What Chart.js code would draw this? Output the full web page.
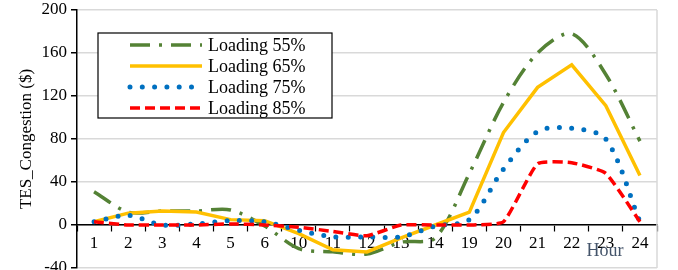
<!DOCTYPE html>
<html>
<head>
<meta charset="utf-8">
<script src="https://cdn.jsdelivr.net/npm/chart.js@4"></script>
<style>
  body { margin: 0; background: #fff; }
</style>
</head>
<body>
<canvas id="c" width="678" height="270"></canvas>
<script>
const hours = ["1", "2", "3", "4", "5", "6", "10", "11", "12", "13", "14", "19", "20", "21", "22", "23", "24"];
const loading55 = [31, 12, 13, 13, 14, -1, -22, -25, -27, -16, -12, 48, 114, 160, 178, 140, 78];
const loading65 = [3, 11, 13, 12, 5, 4, -8, -23, -25, -12, 0, 12, 86, 128, 149, 111, 46];
const loading75 = [3, 9, 0, 1, 4, 3, -5, -11, -11, -11, -1, 5, 52, 87, 90, 80, 3];
const loading85 = [3, 0, 0, 0, 1, 0, -2, -6, -10, 0, 0, 0, 3, 57, 58, 48, 3];
const yTicks = [-40, 0, 40, 80, 120, 160, 200];

const serif = '"Liberation Serif", "Times New Roman", serif';

// legend box, right border and the "Hour" label
const extras = {
  id: "extras",
  beforeDatasetsDraw(chart) {
    const { ctx, chartArea } = chart;
    ctx.save();
    ctx.strokeStyle = "#d9d9d9";
    ctx.lineWidth = 1.5;
    ctx.beginPath();
    ctx.moveTo(chartArea.right, chartArea.top);
    ctx.lineTo(chartArea.right, chartArea.bottom);
    ctx.stroke();
    ctx.restore();
  },
  afterDraw(chart) {
    const { ctx, chartArea, scales } = chart;
    ctx.save();

    const zero = scales.y.getPixelForValue(0);
    ctx.fillStyle = "#44546a";
    ctx.font = "18px " + serif;
    ctx.textAlign = "center";
    ctx.textBaseline = "middle";
    ctx.fillText("Hour", chartArea.right - 52, zero + 26);

    const bx = 98, by = 33, bw = 234, bh = 85;
    ctx.fillStyle = "#fff";
    ctx.fillRect(bx, by, bw, bh);
    ctx.strokeStyle = "#000";
    ctx.lineWidth = 1.2;
    ctx.strokeRect(bx, by, bw, bh);

    chart.data.datasets.forEach((ds, i) => {
      const ry = by + 12 + i * 21;
      ctx.save();
      ctx.strokeStyle = ds.borderColor;
      ctx.lineWidth = ds.borderWidth;
      ctx.lineCap = ds.borderCapStyle || "butt";
      ctx.setLineDash(ds.borderDash || []);
      ctx.beginPath();
      ctx.moveTo(130, ry);
      ctx.lineTo(202, ry);
      ctx.stroke();
      ctx.restore();
      ctx.fillStyle = "#000";
      ctx.font = "18px " + serif;
      ctx.textAlign = "left";
      ctx.textBaseline = "middle";
      ctx.fillText(ds.label, 208, ry + 1);
    });
    ctx.restore();
  },
};

new Chart(document.getElementById("c"), {
  type: "line",
  data: {
    labels: hours,
    datasets: [
      {
        label: "Loading 55%",
        data: loading55,
        borderColor: "#548235",
        borderWidth: 3.5,
        borderDash: [20, 9, 3, 9],
        tension: 0.3,
        order: 4,
      },
      {
        label: "Loading 65%",
        data: loading65,
        borderColor: "#ffc000",
        borderWidth: 3.5,
        tension: 0,
        order: 3,
      },
      {
        label: "Loading 75%",
        data: loading75,
        borderColor: "#0070c0",
        borderWidth: 5,
        borderDash: [0, 12.3],
        borderCapStyle: "round",
        tension: 0.3,
        order: 2,
      },
      {
        label: "Loading 85%",
        data: loading85,
        borderColor: "#ff0000",
        borderWidth: 3.5,
        borderDash: [10, 5],
        tension: 0.15,
        order: 1,
      },
    ],
  },
  options: {
    responsive: false,
    animation: false,
    devicePixelRatio: 1,
    layout: { padding: { left: 0, top: 10, right: 21, bottom: 2 } },
    elements: { point: { radius: 0 } },
    scales: {
      x: {
        position: { y: 0 },
        offset: true,
        ticks: {
          color: "#000",
          font: { family: serif, size: 17 },
          padding: 2,
          maxRotation: 0,
          autoSkip: false,
        },
        grid: {
          drawOnChartArea: false,
          drawTicks: true,
          tickLength: 6,
          tickColor: "#000",
          tickWidth: 1.2,
          offset: true,
        },
        border: { color: "#000", width: 1.5 },
      },
      y: {
        min: yTicks[0],
        max: yTicks[yTicks.length - 1],
        afterBuildTicks(scale) {
          scale.ticks = yTicks.map((v) => ({ value: v }));
        },
        ticks: {
          color: "#000",
          font: { family: serif, size: 17 },
          padding: 4,
        },
        grid: {
          color: "#d9d9d9",
          lineWidth: 1.5,
          tickColor: "#000",
          tickLength: 6,
        },
        border: { color: "#000", width: 1.5 },
        title: {
          display: true,
          text: "TES_Congestion ($)",
          color: "#000",
          font: { family: serif, size: 17 },
          padding: { top: 16, bottom: 0 },
        },
        afterFit(scale) {
          scale.width = 77;
          scale.paddingTop = 0;
          scale.paddingBottom = 0;
        },
      },
    },
    plugins: {
      legend: { display: false },
      tooltip: { enabled: false },
    },
  },
  plugins: [extras],
});
</script>
</body>
</html>
